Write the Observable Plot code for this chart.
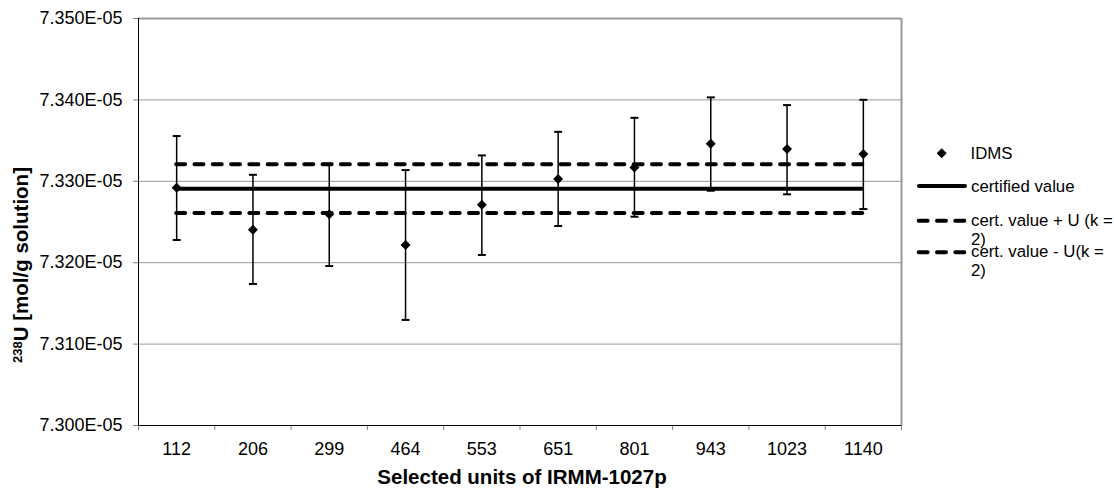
<!DOCTYPE html>
<html><head><meta charset="utf-8">
<script src="https://cdn.jsdelivr.net/npm/d3@7"></script>
<script src="https://cdn.jsdelivr.net/npm/@observablehq/plot@0.6"></script>
<style>
html,body{margin:0;padding:0;background:#fff;}
#chart{position:relative;width:1114px;height:495px;}
</style>
</head><body><div id="chart"></div>
<script>
// ---- data ----
const categories = ["112","206","299","464","553","651","801","943","1023","1140"];
const idms      = [7.32921e-5, 7.32405e-5, 7.32594e-5, 7.32217e-5, 7.32712e-5, 7.33028e-5, 7.33171e-5, 7.33461e-5, 7.33396e-5, 7.33335e-5];
const idmsUpper = [7.33556e-5, 7.33080e-5, 7.33216e-5, 7.33138e-5, 7.33318e-5, 7.33608e-5, 7.33780e-5, 7.34031e-5, 7.33936e-5, 7.34001e-5];
const idmsLower = [7.32279e-5, 7.31739e-5, 7.31959e-5, 7.31297e-5, 7.32095e-5, 7.32451e-5, 7.32565e-5, 7.32884e-5, 7.32840e-5, 7.32659e-5];
const certifiedValue = 7.3291e-5;
const certUpper = 7.3321e-5;
const certLower = 7.3261e-5;
const yTicks = [7.300e-5, 7.310e-5, 7.320e-5, 7.330e-5, 7.340e-5, 7.350e-5];
const xTitle = "Selected units of IRMM-1027p";
const yTitleSup = "238";
const yTitleMain = "U [mol/g solution]";
const legendIDMS = "IDMS";
const legendCert = "certified value";
const legendUp = ["cert. value + U (k =", "2)"];
const legendLo = ["cert. value - U(k =", "2)"];

// ---- helpers ----
const FONT = "'Liberation Sans', Arial, Helvetica, sans-serif";
const idx = categories.map((_, i) => i);
const center = i => i + 0.5;
const bounds = d3.range(categories.length + 1);
const centers = idx.map(center);
const yFmt = v => (v * 1e5).toFixed(3) + "E-05";
const capSymbol = {draw(ctx, size) { const w = Math.sqrt(size / Math.PI); ctx.moveTo(-w, 0); ctx.lineTo(w, 0); }};
const yMin = yTicks[0], yMax = yTicks[yTicks.length - 1];
const dashed = {stroke: "#000", strokeWidth: 4, strokeDasharray: "9,9.3", strokeLinecap: "round"};

const chart = Plot.plot({
  width: 1114, height: 495,
  marginLeft: 138, marginRight: 213, marginTop: 18, marginBottom: 70,
  style: {fontFamily: FONT, fontSize: "18px", color: "#000", background: "#fff", overflow: "visible"},
  x: {type: "linear", domain: [0, categories.length], axis: null},
  y: {type: "linear", domain: [yMin, yMax], axis: null},
  marks: [
    Plot.gridY(yTicks.slice(1, -1), {stroke: "#999", strokeOpacity: 1, strokeWidth: 1}),
    Plot.ruleY([yMax], {stroke: "#999", strokeWidth: 2}),
    Plot.ruleX([categories.length], {stroke: "#999", strokeWidth: 2}),
    Plot.axisY(yTicks, {tickSize: 5, tickPadding: 11, tickFormat: yFmt, stroke: "#808080", fill: "#000", fontSize: 18, label: null}),
    Plot.axisX(bounds, {tickSize: 5, tickFormat: () => "", stroke: "#808080", label: null}),
    Plot.axisX(centers, {tickSize: 0, tickPadding: 17, tickFormat: v => categories[Math.floor(v)], fill: "#000", fontSize: 18, label: null}),
    Plot.ruleX([0], {stroke: "#000", strokeWidth: 1}),
    Plot.ruleY([yMin], {stroke: "#000", strokeWidth: 1.2}),
    // certified value and its uncertainty band
    Plot.ruleY([certUpper], {x1: () => centers[0], x2: () => centers[centers.length - 1], ...dashed}),
    Plot.ruleY([certLower], {x1: () => centers[0], x2: () => centers[centers.length - 1], ...dashed}),
    Plot.ruleY([certifiedValue], {x1: () => centers[0], x2: () => centers[centers.length - 1], stroke: "#000", strokeWidth: 4}),
    // IDMS error bars
    Plot.ruleX(idx, {x: center, y1: i => idmsLower[i], y2: i => idmsUpper[i], stroke: "#000", strokeWidth: 1.5}),
    Plot.dot(idx, {x: center, y: i => idmsUpper[i], symbol: capSymbol, r: 4, stroke: "#000", strokeWidth: 2, fill: "none"}),
    Plot.dot(idx, {x: center, y: i => idmsLower[i], symbol: capSymbol, r: 4, stroke: "#000", strokeWidth: 2, fill: "none"}),
    Plot.dot(idx, {x: center, y: i => idms[i], symbol: "diamond2", r: 4.5, fill: "#000", stroke: "none"}),
    // axis titles
    Plot.text([xTitle], {text: d => d, frameAnchor: "bottom", textAnchor: "middle", lineAnchor: "middle", dx: 2, dy: 52, fontSize: 20.5, fontWeight: "bold", fill: "#000"}),
    Plot.text([yTitleMain], {text: d => d, frameAnchor: "left", textAnchor: "middle", lineAnchor: "middle", rotate: -90, dx: -116.6, dy: 43, fontSize: 20.5, fontWeight: "bold", fill: "#000"})
  ]
});

document.getElementById("chart").appendChild(chart);

// superscript on the y title
const svg = d3.select(chart);
svg.selectAll("text").filter(function() { return this.textContent === yTitleMain; }).each(function() {
  const t = d3.select(this);
  t.text(null);
  t.append("tspan").attr("font-size", 13).attr("dy", -6).text(yTitleSup);
  t.append("tspan").attr("dy", 6).text(yTitleMain);
});

// legend (right side)
const lg = svg.append("g").attr("font-family", FONT).attr("font-size", 16.8).attr("fill", "#000").attr("text-anchor", "start");
lg.append("path").attr("d", d3.symbol(d3.symbolDiamond2, 63.7)()).attr("transform", "translate(941.7,153.3)").attr("fill", "#000");
lg.append("text").attr("x", 970.5).attr("y", 158.5).text(legendIDMS);
lg.append("line").attr("x1", 919).attr("x2", 965).attr("y1", 186).attr("y2", 186).attr("stroke", "#000").attr("stroke-width", 4).attr("stroke-linecap", "round");
lg.append("text").attr("x", 971).attr("y", 191.7).text(legendCert);
[[220.7, 226, legendUp], [252.3, 257.3, legendLo]].forEach(([ly, ty, lines]) => {
  lg.append("line").attr("x1", 918.7).attr("x2", 964.3).attr("y1", ly).attr("y2", ly)
    .attr("stroke", "#000").attr("stroke-width", 4).attr("stroke-dasharray", "9,9.3").attr("stroke-linecap", "round");
  const t = lg.append("text").attr("x", 971).attr("y", ty);
  lines.forEach((s, k) => t.append("tspan").attr("x", 971).attr("dy", k === 0 ? 0 : 18.5).text(s));
});
</script>
</body></html>
